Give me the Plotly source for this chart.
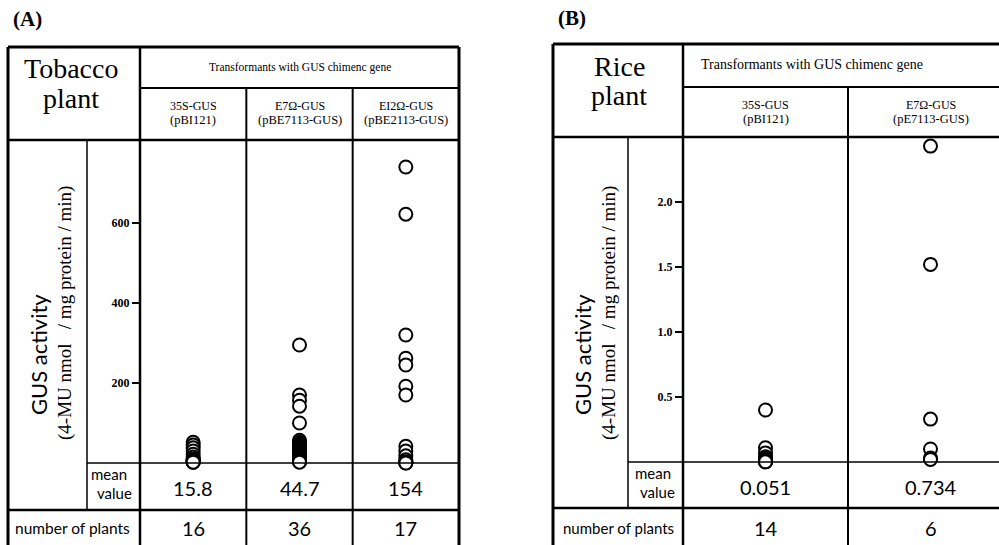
import plotly.graph_objects as go

# ---------------- data ----------------
tob_cols = [["35S-GUS", "(pBI121)"], ["E7Ω-GUS", "(pBE7113-GUS)"], ["EI2Ω-GUS", "(pBE2113-GUS)"]]
tob_35S = [52, 45, 38, 30, 22, 15, 10, 8, 8, 6, 5, 4, 3, 3, 2, 2]
tob_E7 = [295, 170, 157, 142, 100, 57, 52, 50, 48, 45, 45, 44, 42, 40, 38, 35, 32, 30, 30,
          28, 25, 23, 20, 16, 15, 14, 12, 10, 9, 8, 7, 6, 5, 4, 3, 2]
tob_E12 = [740, 622, 320, 262, 245, 192, 170, 42, 30, 18, 8, 3, 2, 1, 1, 0, 0]
tob_mean = ["15.8", "44.7", "154"]
tob_n = ["16", "36", "17"]
tob_ticks = [200, 400, 600]

rice_cols = [["35S-GUS", "(pBI121)"], ["E7Ω-GUS", "(pE7113-GUS)"]]
rice_35S = [0.40, 0.11, 0.07, 0.04, 0.03, 0.02, 0.01, 0.01, 0.01, 0.005, 0.005, 0.003, 0.002, 0.001]
rice_E7 = [2.43, 1.52, 0.33, 0.10, 0.03, 0.02]
rice_mean = ["0.051", "0.734"]
rice_n = ["14", "6"]
rice_ticks = [0.5, 1.0, 1.5, 2.0]
rice_ticktext = ["0.5", "1.0", "1.5", "2.0"]

header_text = "Transformants with GUS chimenc gene"
ytitle1 = "GUS activity"
ytitle2 = "(4-MU nmol   / mg protein / min)"

# ---------------- layout helpers ----------------
W, H = 999, 545
SERIF = "Liberation Serif"
SANS = "Lato"


def px(x):
    return x / W


def py(y):
    return 1 - y / H


shapes = []


def hline(y, x0, x1, w=2):
    shapes.append(dict(type="line", xref="paper", yref="paper", x0=px(x0), x1=px(x1),
                       y0=py(y), y1=py(y), line=dict(color="black", width=w)))


def vline(x, y0, y1, w=2):
    shapes.append(dict(type="line", xref="paper", yref="paper", x0=px(x), x1=px(x),
                       y0=py(y0), y1=py(y1), line=dict(color="black", width=w)))


def vline_ax(xref, x, y0, y1, w=2):
    shapes.append(dict(type="line", xref=xref, yref="paper", x0=x, x1=x,
                       y0=py(y0), y1=py(y1), line=dict(color="black", width=w)))


ann = []


def text(x, y, t, size, family=SERIF, xref="paper", angle=0, bold=False):
    if bold:
        t = "<b>" + t + "</b>"
    ann.append(dict(x=x if xref != "paper" else px(x), y=py(y), xref=xref, yref="paper",
                    text=t, showarrow=False, xanchor="center", yanchor="middle",
                    textangle=angle, font=dict(family=family, size=size, color="black")))


fig = go.Figure()
marker_style = dict(symbol="circle", size=13, color="white", line=dict(color="black", width=2))

# ---------------- Panel A (tobacco) ----------------
A_L, A_R, A_T = 8, 459, 47
A_HM, A_HB = 88, 140
A_AX, A_IN = 140, 87
A_Z, A_MB = 463, 510
A_B = 548
A_SCALE = 0.4  # px per unit

for i, vals in enumerate([tob_35S, tob_E7, tob_E12]):
    v = sorted(vals, reverse=True)
    fig.add_trace(go.Scatter(x=[i] * len(v), y=v, mode="markers", xaxis="x", yaxis="y",
                             cliponaxis=False, showlegend=False, marker=marker_style))

hline(A_T, A_L, A_R, 3)
hline(A_HM, A_AX, A_R, 2)
hline(A_HB, A_L, A_R, 2.5)
hline(A_Z, A_IN, A_R, 1.5)
hline(A_MB, A_L, A_R, 2.5)
vline(A_L, A_T, A_B, 3)
vline(A_R, A_T, A_B, 3)
vline(A_AX, A_T, A_B, 2.5)
vline(A_IN, A_HB, A_MB, 1.5)
for d in [0.5, 1.5]:
    vline_ax("x", d, A_HM, A_B, 2)

text(27, 19, "(A)", 21, bold=True)
text(71, 69, "Tobacco", 28)
text(71, 98, "plant", 28)
text(1, 67, header_text, 11.5, xref="x")
for i, c in enumerate(tob_cols):
    text(i, 106, c[0], 12, xref="x")
    text(i, 120, c[1], 12.5, xref="x")
for i, m in enumerate(tob_mean):
    text(i, 488, m, 20, family=SANS, xref="x")
for i, n in enumerate(tob_n):
    text(i, 528, n, 20, family=SANS, xref="x")
text(109, 474, "mean", 15, family=SANS)
text(114, 493, "value", 15, family=SANS)
text(72, 528, "number of plants", 15.5, family=SANS)
text(38, 355, ytitle1, 22, family=SANS, angle=-90)
text(65, 313, ytitle2, 19, angle=-90)

# ---------------- Panel B (rice) ----------------
B_L, B_T = 553, 44
B_HM, B_HB = 87, 137
B_AX, B_IN = 683, 628
B_Z, B_MB = 462, 508
B_B = 548
B_SCALE = 130  # px per unit
B_COLW = 165

for i, vals in enumerate([rice_35S, rice_E7]):
    v = sorted(vals, reverse=True)
    fig.add_trace(go.Scatter(x=[i] * len(v), y=v, mode="markers", xaxis="x2", yaxis="y2",
                             cliponaxis=False, showlegend=False, marker=marker_style))

hline(B_T, B_L, W, 3)
hline(B_HM, B_AX, W, 2)
hline(B_HB, B_L, W, 2.5)
hline(B_Z, B_IN, W, 1.5)
hline(B_MB, B_L, W, 2.5)
vline(B_L, B_T, B_B, 3)
vline(B_AX, B_T, B_B, 2.5)
vline(B_IN, B_HB, B_MB, 1.5)
vline_ax("x2", 0.5, B_HM, B_B, 2)

text(572, 18, "(B)", 21, bold=True)
text(619, 66, "Rice", 28)
text(619, 95, "plant", 28)
text(812, 65, header_text, 14)
for i, c in enumerate(rice_cols):
    text(i, 105, c[0], 12, xref="x2")
    text(i, 119, c[1], 12.5, xref="x2")
for i, m in enumerate(rice_mean):
    text(i, 487, m, 20, family=SANS, xref="x2")
for i, n in enumerate(rice_n):
    text(i, 528, n, 20, family=SANS, xref="x2")
text(653, 473, "mean", 15, family=SANS)
text(657, 492, "value", 15, family=SANS)
text(618, 528, "number of plants", 15, family=SANS)
text(582, 355, ytitle1, 22, family=SANS, angle=-90)
text(609, 313, ytitle2, 19, angle=-90)

# ---------------- axes ----------------
axis_common = dict(showgrid=False, zeroline=False, showline=False)
tickfont = dict(family=SERIF, size=12, color="black", weight="bold")
fig.update_layout(
    width=W, height=H,
    margin=dict(l=0, r=0, t=0, b=0),
    paper_bgcolor="white", plot_bgcolor="rgba(0,0,0,0)",
    showlegend=False,
    shapes=shapes, annotations=ann,
    xaxis=dict(domain=[px(A_AX), px(A_R)], range=[-0.5, 2.5], visible=False, **axis_common),
    yaxis=dict(domain=[py(A_Z), py(A_HB)], range=[0, (A_Z - A_HB) / A_SCALE], anchor="x",
               tickmode="array", tickvals=tob_ticks, ticks="outside", ticklen=7, tickwidth=1.5,
               tickcolor="black", tickfont=tickfont, **axis_common),
    xaxis2=dict(domain=[px(B_AX), 1], range=[-0.5, (W - B_AX) / B_COLW - 0.5], visible=False,
                **axis_common),
    yaxis2=dict(domain=[py(B_Z), py(B_HB)], range=[0, (B_Z - B_HB) / B_SCALE], anchor="x2",
                tickmode="array", tickvals=rice_ticks, ticktext=rice_ticktext, ticks="outside",
                ticklen=7, tickwidth=1.5, tickcolor="black", tickfont=tickfont, **axis_common),
)

fig.write_html("out.html", config={"displayModeBar": False},
               post_script="document.body.style.margin='0';document.body.style.overflow='hidden';")
